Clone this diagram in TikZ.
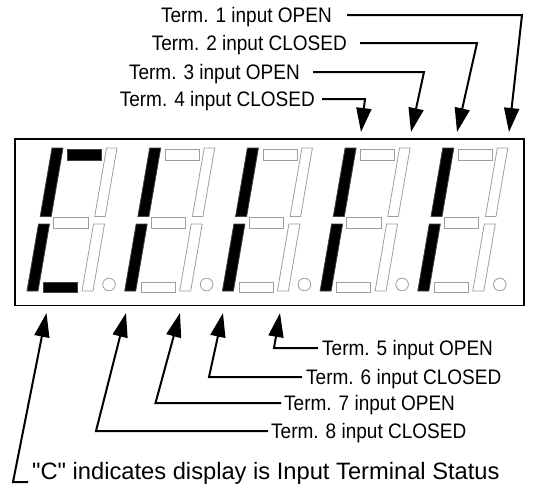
\documentclass[tikz,border=0pt]{standalone}
\usepackage{fontspec}
\newfontfamily\lblfont[FakeStretch=0.905]{Liberation Sans}
\newfontfamily\capfont{Liberation Sans}
\usetikzlibrary{arrows.meta}
\newcommand\segdigit[9]{%
  \begin{scope}[xshift=#1]
    \draw[#2] (67.5,149) rectangle (101.5,160);
    \draw[#3] (106.5,148) -- (117,148) -- (105.2,216.5) -- (94.7,216.5) -- cycle;
    \draw[#4] (93.5,224) -- (104.5,224) -- (93,291) -- (82,291) -- cycle;
    \draw[#5] (43.5,282) rectangle (77.5,292.5);
    \draw[#6] (38.5,224) -- (49.5,224) -- (38,291) -- (27,291) -- cycle;
    \draw[#7] (52,148) -- (63,148) -- (51.2,216.5) -- (40.2,216.5) -- cycle;
    \draw[#8] (53.5,217.5) rectangle (88,228);
    \draw[#9] (109,284.5) circle (6.3);
  \end{scope}}
\begin{document}
\begin{tikzpicture}[x=1pt,y=-1pt,
  conn/.style={line width=2pt, -{Triangle[length=24pt,width=15pt]}, line join=miter},
  lbl/.style={font=\lblfont\fontsize{21}{25}\selectfont, inner sep=0pt, text height=15pt, text depth=0pt},
  caplbl/.style={font=\capfont\fontsize{23.7}{28}\selectfont, inner sep=0pt},
  lit/.style={fill=black, draw=black!75, line width=0.8pt},
  off/.style={fill=white, draw=black!38, line width=0.8pt},
  frame/.style={draw=black, line width=1.4pt}]
\useasboundingbox (0,0) rectangle (533,491);
\draw[frame] (15,139) rectangle (524,305.5);
\segdigit{0pt}{lit}{off}{off}{lit}{lit}{lit}{off}{off}
\segdigit{97.7pt}{off}{off}{off}{off}{lit}{lit}{off}{off}
\segdigit{195.4pt}{off}{off}{off}{off}{lit}{lit}{off}{off}
\segdigit{293.1pt}{off}{off}{off}{off}{lit}{lit}{off}{off}
\segdigit{390.8pt}{off}{off}{off}{off}{lit}{lit}{off}{off}
% top labels
\node[lbl, anchor=east] (t1) at (332,15) {Term. 1 input OPEN};
\node[lbl, anchor=east] (t2) at (347,43) {Term. 2 input CLOSED};
\node[lbl, anchor=east] (t3) at (300,72) {Term. 3 input OPEN};
\node[lbl, anchor=east] (t4) at (315,99) {Term. 4 input CLOSED};
\coordinate (k1) at (522,15);  \coordinate (p1) at (509,132);
\coordinate (k2) at (477,43);  \coordinate (p2) at (457,132);
\coordinate (k3) at (424,72);  \coordinate (p3) at (411,132);
\coordinate (k4) at (365,99);  \coordinate (p4) at (361,132);
\draw[conn] ([xshift=15pt]t1.east) -- (k1) -- (p1);
\draw[conn] ([xshift=13pt]t2.east) -- (k2) -- (p2);
\draw[conn] ([xshift=13pt]t3.east) -- (k3) -- (p3);
\draw[conn] ([xshift=7pt]t4.east) -- (k4) -- (p4);
% bottom labels
\node[lbl, anchor=west] (t5) at (322,348) {Term. 5 input OPEN};
\node[lbl, anchor=west] (t6) at (306,377) {Term. 6 input CLOSED};
\node[lbl, anchor=west] (t7) at (284,403) {Term. 7 input OPEN};
\node[lbl, anchor=west] (t8) at (271,431) {Term. 8 input CLOSED};
\node[caplbl, anchor=base west] (tc) at (32,479) {"C" indicates display is Input Terminal Status};
\coordinate (k5) at (274,348);  \coordinate (p5) at (280,313);
\coordinate (k6) at (209,377);  \coordinate (p6) at (223,313);
\coordinate (k7) at (155.5,403);\coordinate (p7) at (180,313);
\coordinate (k8) at (96,431);   \coordinate (p8) at (126,313);
\coordinate (kc) at (13,482);   \coordinate (pc) at (46.5,313);
\path (tc.base west) ++(-4,3) coordinate (sc);
\draw[conn] ([xshift=-4pt]t5.west) -- (k5) -- (p5);
\draw[conn] ([xshift=-4pt]t6.west) -- (k6) -- (p6);
\draw[conn] ([xshift=-3pt]t7.west) -- (k7) -- (p7);
\draw[conn] ([xshift=-3pt]t8.west) -- (k8) -- (p8);
\draw[conn] (sc) -- (kc) -- (pc);
\end{tikzpicture}
\end{document}
